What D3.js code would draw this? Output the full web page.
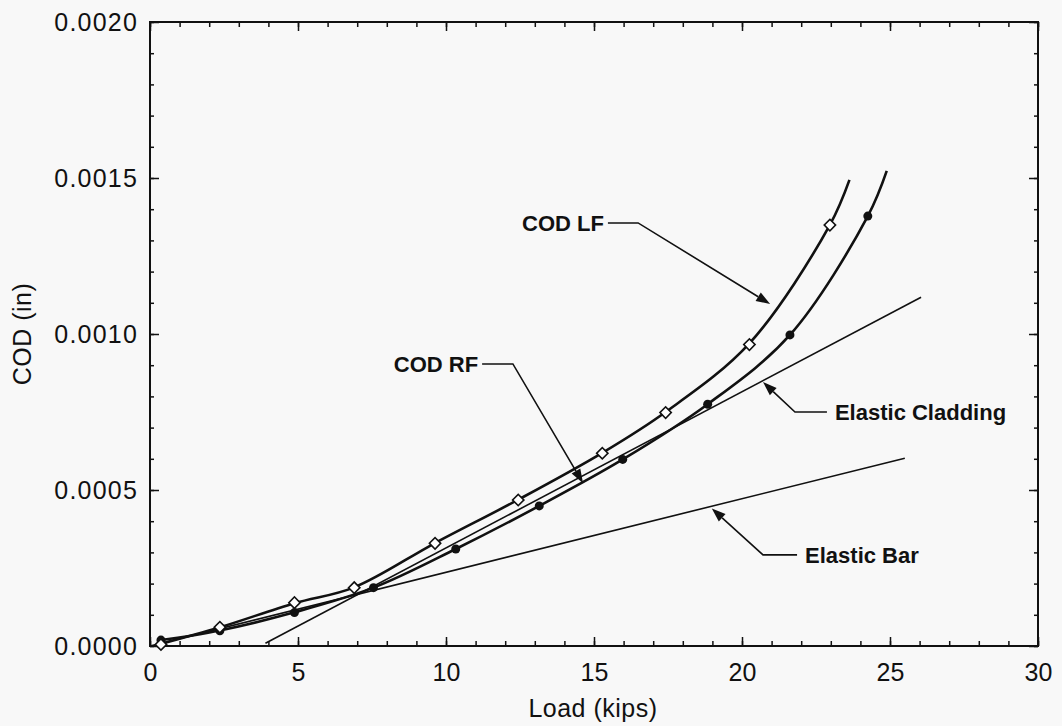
<!DOCTYPE html>
<html>
<head>
<meta charset="utf-8">
<script src="https://cdn.jsdelivr.net/npm/d3@7"></script>
<style>
  html, body { margin: 0; padding: 0; background: #f8f8f8; }
  svg { display: block; }
  text { font-family: "Liberation Sans", Arial, Helvetica, sans-serif; fill: #111; }
</style>
</head>
<body>
<svg id="chart" width="1062" height="726"></svg>
<script>
// ---- data ----
const xTicks = [0, 5, 10, 15, 20, 25, 30];
const yTicks = [0, 0.0005, 0.0010, 0.0015, 0.0020];
const yTickLabels = ["0.0000", "0.0005", "0.0010", "0.0015", "0.0020"];
const xLabel = "Load (kips)";
const yLabel = "COD (in)";

// COD LF curve (smooth) and open diamond markers
const lfCurve = [[0.3, 0.000005], [2.36, 0.00006], [4.88, 0.000137], [6.9, 0.000188], [9.63, 0.00033], [12.44, 0.000469], [15.28, 0.000619], [17.42, 0.00075], [20.25, 0.00097], [22.97, 0.00135], [23.63, 0.001494]];
const lfPoints = [[0.37, 0.000005], [2.36, 0.00006], [4.88, 0.000139], [6.9, 0.000187], [9.63, 0.000329], [12.44, 0.000468], [15.28, 0.000618], [17.42, 0.000748], [20.25, 0.000966], [22.97, 0.001349]];

// COD RF curve (smooth) and filled dot markers
const rfCurve = [[0.3, 0.000018], [2.36, 0.00005], [4.88, 0.000108], [7.55, 0.000187], [10.33, 0.000311], [13.15, 0.000449], [15.97, 0.000598], [18.84, 0.000775], [21.62, 0.000997], [24.25, 0.001378], [24.89, 0.001523]];
const rfPoints = [[0.37, 0.000019], [2.36, 0.000049], [4.88, 0.000107], [7.55, 0.000187], [10.33, 0.000311], [13.15, 0.000449], [15.97, 0.000598], [18.84, 0.000775], [21.62, 0.000997], [24.25, 0.001378]];

// straight reference lines
const claddingLine = [[3.9, 0.0000087], [26.05, 0.001118]];
const barLine = [[0.0, 0.0], [25.5, 0.000602]];

// annotations: label, side, [elbowStart], [elbowEnd], [arrowTip] (data coords)
const annotations = [
  { label: "COD LF", side: "left", a: [15.47, 0.001356], b: [16.49, 0.001356], tip: [20.95, 0.001096] },
  { label: "COD RF", side: "left", a: [11.22, 0.000904], b: [12.26, 0.000904], tip: [14.63, 0.000522] },
  { label: "Elastic Cladding", side: "right", a: [22.87, 0.00075], b: [21.79, 0.00075], tip: [20.71, 0.000846] },
  { label: "Elastic Bar", side: "right", a: [21.86, 0.000292], b: [20.71, 0.000292], tip: [18.98, 0.000441] }
];

// ---- drawing ----
const svg = d3.select("#chart");
const L = 150, R = 1038, T = 22, B = 646;
const x = d3.scaleLinear().domain([0, 30]).range([L, R]);
const y = d3.scaleLinear().domain([0, 0.002]).range([B, T]);

svg.append("rect").attr("width", 1062).attr("height", 726).attr("fill", "#f8f8f8");

const fmtY = d => yTickLabels[yTicks.indexOf(d)];

// minor ticks
const minorX = d3.range(0, 31, 1);
const minorY = d3.range(0, 0.00201, 0.0001).map(v => +v.toFixed(4));

function styleAxis(g) {
  g.select(".domain").remove();
  g.selectAll(".tick line").attr("stroke", "#111").attr("stroke-width", 1.5);
}

svg.append("g").attr("transform", `translate(0,${B})`)
  .call(d3.axisBottom(x).tickValues(minorX).tickSize(-5).tickFormat(""))
  .call(styleAxis);
svg.append("g").attr("transform", `translate(0,${T})`)
  .call(d3.axisTop(x).tickValues(minorX).tickSize(-5).tickFormat(""))
  .call(styleAxis);
svg.append("g").attr("transform", `translate(${L},0)`)
  .call(d3.axisLeft(y).tickValues(minorY).tickSize(-4).tickFormat(""))
  .call(styleAxis);
svg.append("g").attr("transform", `translate(${R},0)`)
  .call(d3.axisRight(y).tickValues(minorY).tickSize(-4).tickFormat(""))
  .call(styleAxis);

// major ticks + labels
const xAx = svg.append("g").attr("transform", `translate(0,${B})`)
  .call(d3.axisBottom(x).tickValues(xTicks).tickSize(-9).tickPadding(17).tickFormat(d3.format("d")))
  .call(styleAxis);
xAx.selectAll("text").attr("font-size", 25).attr("font-family", "Liberation Sans, Arial, sans-serif").attr("fill", "#111");

svg.append("g").attr("transform", `translate(0,${T})`)
  .call(d3.axisTop(x).tickValues(xTicks).tickSize(-9).tickFormat(""))
  .call(styleAxis);

const yAx = svg.append("g").attr("transform", `translate(${L},0)`)
  .call(d3.axisLeft(y).tickValues(yTicks).tickSize(-9).tickPadding(12).tickFormat(fmtY))
  .call(styleAxis);
yAx.selectAll("text").attr("font-size", 25).attr("letter-spacing", "1.2px")
  .attr("font-family", "Liberation Sans, Arial, sans-serif").attr("fill", "#111");

svg.append("g").attr("transform", `translate(${R},0)`)
  .call(d3.axisRight(y).tickValues(yTicks).tickSize(-9).tickFormat(""))
  .call(styleAxis);

// frame
svg.append("rect").attr("x", L).attr("y", T).attr("width", R - L).attr("height", B - T)
  .attr("fill", "none").attr("stroke", "#111").attr("stroke-width", 2);

// axis titles
svg.append("text").attr("x", (L + R) / 2 - 1).attr("y", 717).attr("text-anchor", "middle")
  .attr("font-size", 25).attr("letter-spacing", "0.5px").text(xLabel);
svg.append("text").attr("transform", `translate(31,${(T + B) / 2}) rotate(-90)`)
  .attr("text-anchor", "middle").attr("font-size", 25).attr("letter-spacing", "0.5px").text(yLabel);

// lines
const line = d3.line().x(d => x(d[0])).y(d => y(d[1]));
const smooth = d3.line().x(d => x(d[0])).y(d => y(d[1])).curve(d3.curveCatmullRom.alpha(0.5));

svg.append("path").datum(barLine).attr("d", line).attr("fill", "none").attr("stroke", "#111").attr("stroke-width", 1.6);
svg.append("path").datum(claddingLine).attr("d", line).attr("fill", "none").attr("stroke", "#111").attr("stroke-width", 1.6);
svg.append("path").datum(rfCurve).attr("d", smooth).attr("fill", "none").attr("stroke", "#111").attr("stroke-width", 2.6);
svg.append("path").datum(lfCurve).attr("d", smooth).attr("fill", "none").attr("stroke", "#111").attr("stroke-width", 2.6);

// markers
svg.append("g").selectAll("circle").data(rfPoints).join("circle")
  .attr("cx", d => x(d[0])).attr("cy", d => y(d[1])).attr("r", 4.5).attr("fill", "#111");
svg.append("g").selectAll("path").data(lfPoints).join("path")
  .attr("transform", d => `translate(${x(d[0])},${y(d[1])}) rotate(45)`)
  .attr("d", "M-4,-4H4V4H-4Z").attr("fill", "#fff").attr("stroke", "#111").attr("stroke-width", 1.6);

// annotations
const ann = svg.append("g");
annotations.forEach(a => {
  const ax = x(a.a[0]), ay = y(a.a[1]), bx = x(a.b[0]), by = y(a.b[1]);
  const tx = x(a.tip[0]), ty = y(a.tip[1]);
  const ang = Math.atan2(ty - by, tx - bx);
  const hl = 14, hw = 5;
  const baseX = tx - hl * Math.cos(ang), baseY = ty - hl * Math.sin(ang);
  ann.append("path")
    .attr("d", `M${ax},${ay}L${bx},${by}L${baseX},${baseY}`)
    .attr("fill", "none").attr("stroke", "#111").attr("stroke-width", 1.6);
  const px = -Math.sin(ang) * hw, py = Math.cos(ang) * hw;
  ann.append("path")
    .attr("d", `M${tx},${ty}L${baseX + px},${baseY + py}L${baseX - px},${baseY - py}Z`)
    .attr("fill", "#111");
  const t = ann.append("text").attr("font-size", 22).attr("font-weight", "bold")
    .attr("dy", "0.35em").attr("y", ay).text(a.label);
  if (a.side === "left") t.attr("x", ax - 4).attr("text-anchor", "end");
  else t.attr("x", ax + 8).attr("text-anchor", "start");
});
</script>
</body>
</html>
